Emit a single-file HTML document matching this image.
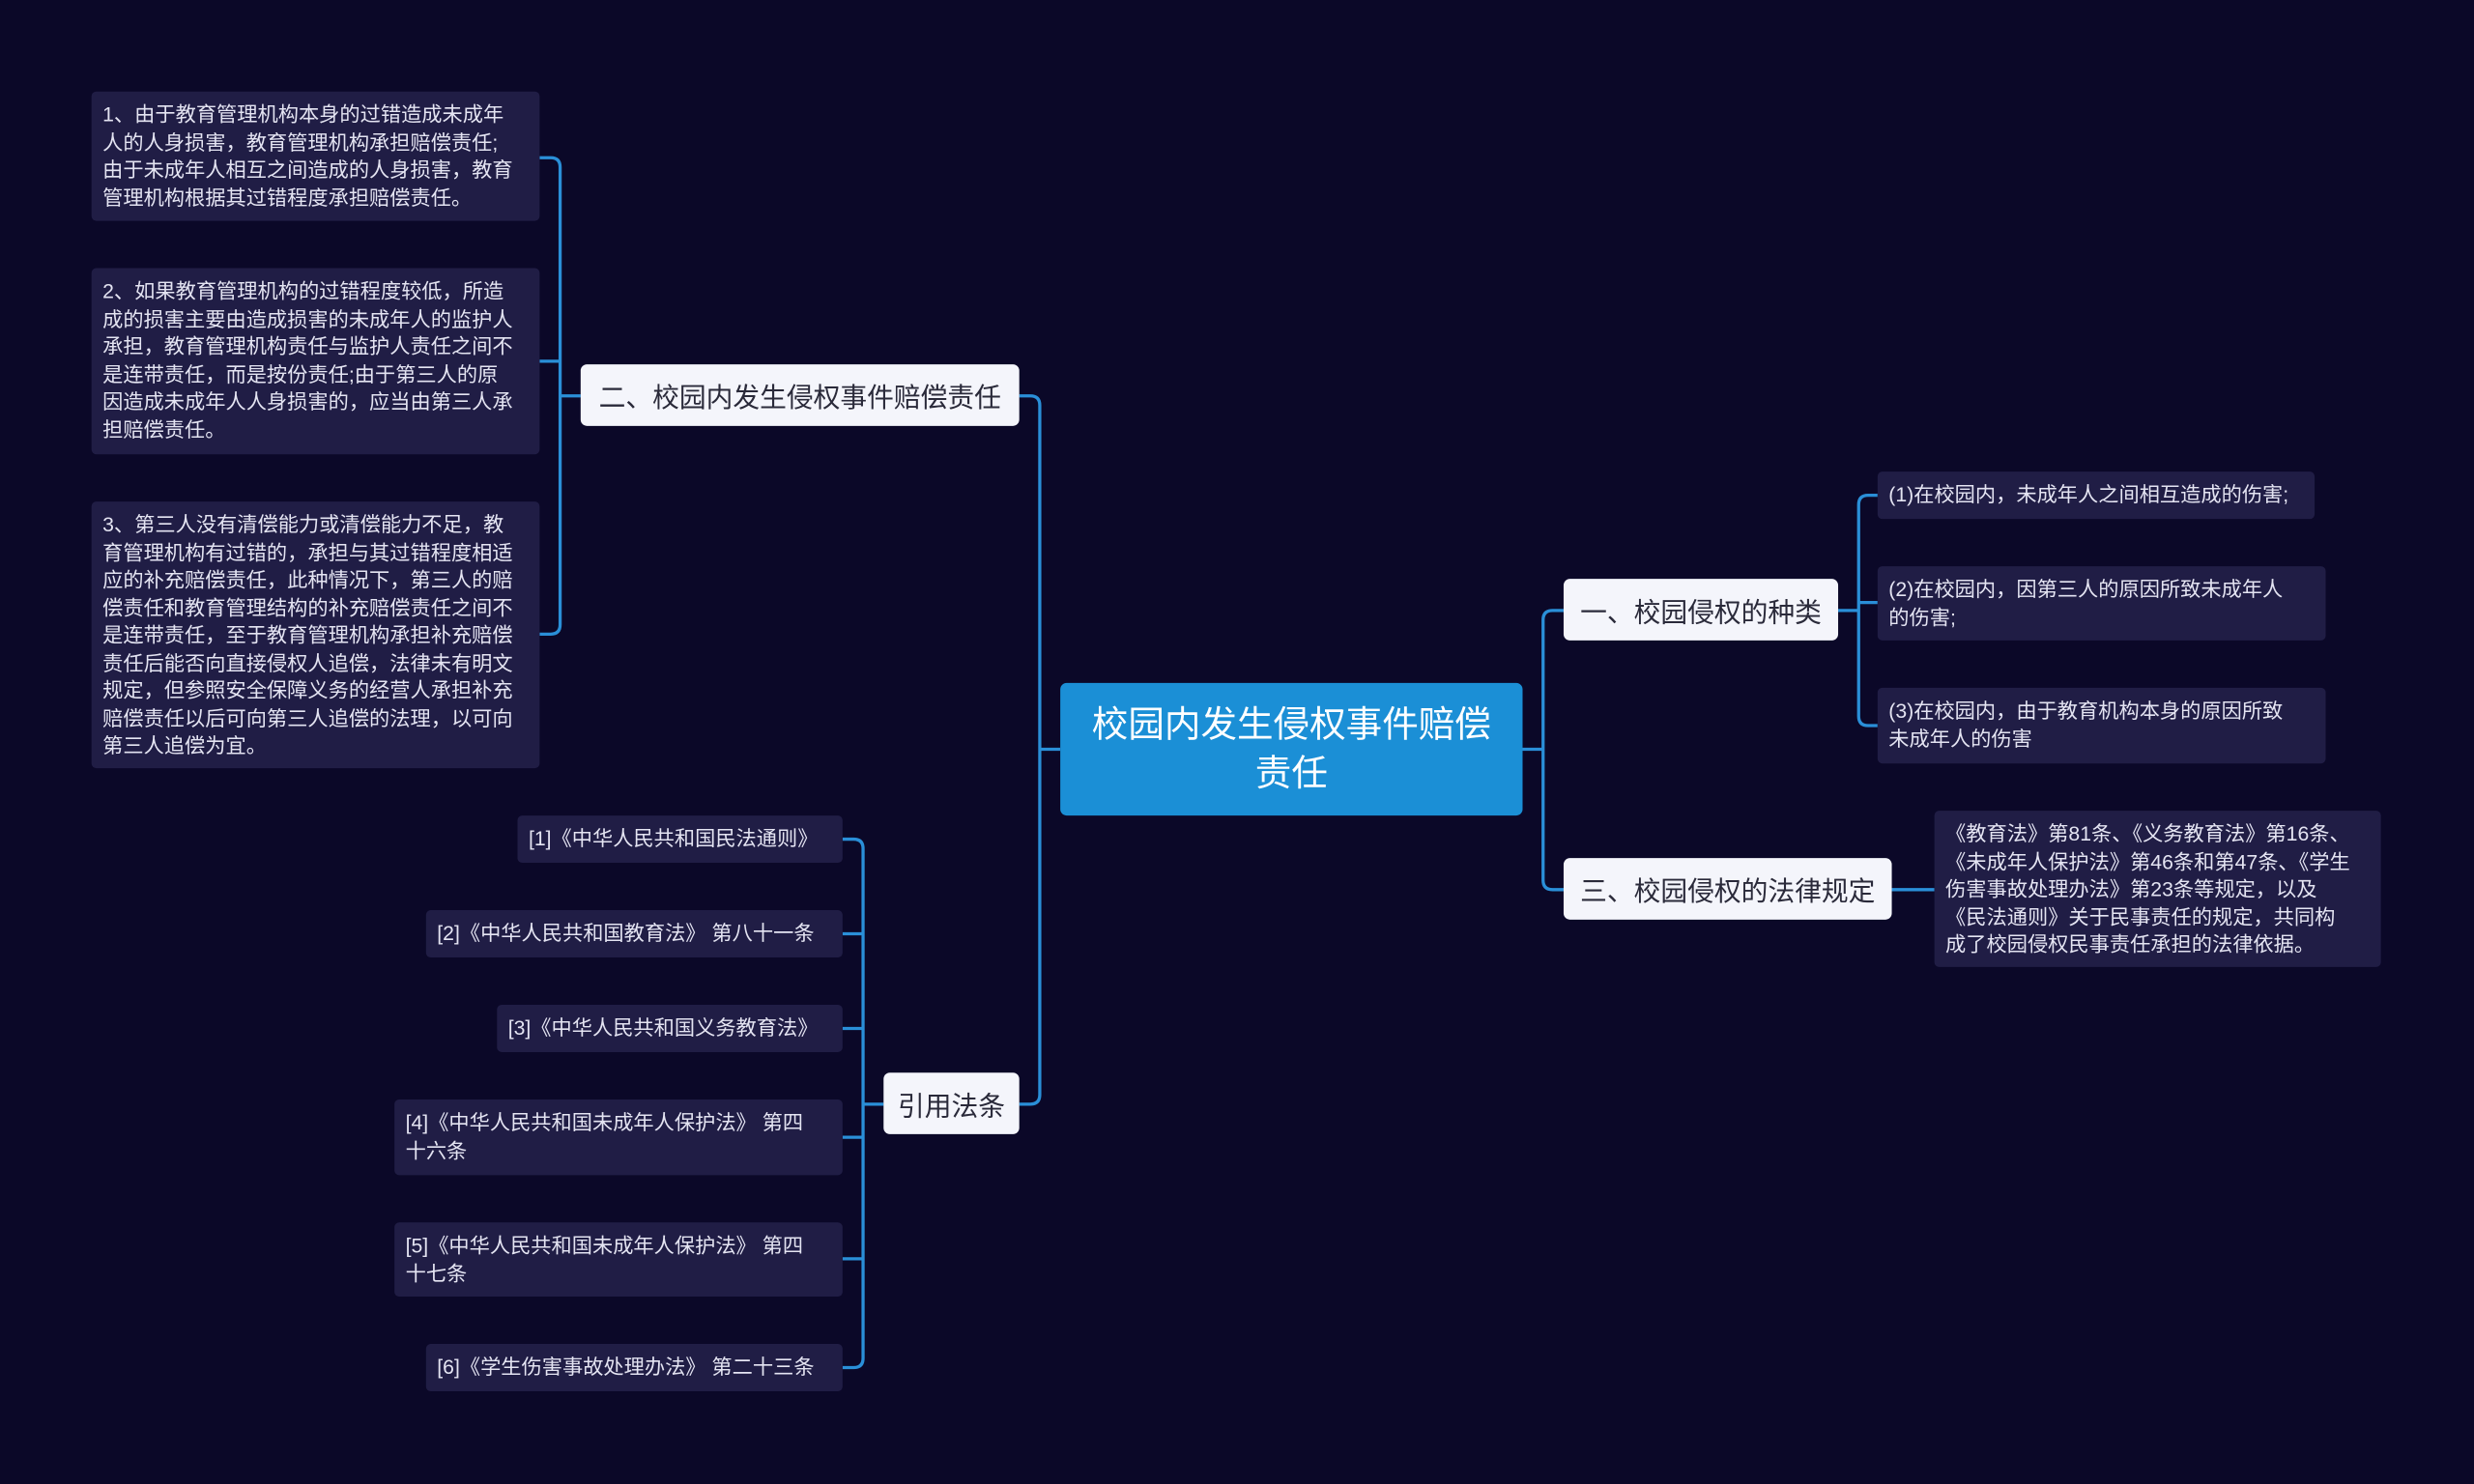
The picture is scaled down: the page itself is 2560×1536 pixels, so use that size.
<!DOCTYPE html>
<html><head><meta charset="utf-8">
<style>
html,body{margin:0;padding:0;background:#0b0828;overflow:hidden;}
#wrap{position:absolute;left:0;top:0;width:1568px;height:941px;transform:scale(1.63265);transform-origin:0 0;background:#0b0828;}
.n{position:absolute;box-sizing:border-box;font-family:"Liberation Sans","Noto Sans CJK SC",sans-serif;}
.leaf{background:#201d45;color:#e4e4f2;font-size:13px;line-height:17.5px;padding:6px 14px 6px 7px;border-radius:3px;}
.main{background:#f4f5fb;color:#2a2a3a;font-size:17px;border-radius:4px;display:flex;align-items:center;justify-content:center;white-space:nowrap;}
.center{background:#1b8fd6;color:#fff;font-size:23px;line-height:31px;border-radius:4px;display:flex;align-items:center;justify-content:center;text-align:center;padding:0 14px;}
.cite{display:flex;align-items:center;white-space:nowrap;}
svg{position:absolute;left:0;top:0;}
</style></head><body><div id="wrap">
<svg width="1568" height="941" fill="none" stroke="#2a8fd8" stroke-width="2">
<path d="M672 475 H659 M646 251 H653 Q659 251 659 257 V694 Q659 700 653 700 H646"/>
<path d="M368 251 H355 M342 100 H349 Q355 100 355 106 V396 Q355 402 349 402 H342 M342 229 H355"/>
<path d="M560 700 H547 M534 532 H541 Q547 532 547 538 V861 Q547 867 541 867 H534 M534 592 H547 M534 652 H547 M534 721 H547 M534 798 H547"/>
<path d="M965 475 H978 M991 387 H984 Q978 387 978 393 V558 Q978 564 984 564 H991"/>
<path d="M1165 387 H1178 M1190 314 H1184 Q1178 314 1178 320 V454 Q1178 460 1184 460 H1190 M1178 382 H1190"/>
<path d="M1199 564 H1226"/>
</svg>
<div class="n center" style="left:672px;top:433px;width:293px;height:84px;">校园内发生侵权事件赔偿责任</div>
<div class="n main" style="left:368px;top:231px;width:278px;height:39px;">二、校园内发生侵权事件赔偿责任</div>
<div class="n main" style="left:560px;top:680px;width:86px;height:39px;">引用法条</div>
<div class="n main" style="left:991px;top:367px;width:174px;height:39px;">一、校园侵权的种类</div>
<div class="n main" style="left:991px;top:544px;width:208px;height:39px;">三、校园侵权的法律规定</div>

<div class="n leaf" style="left:58px;top:58px;width:284px;height:82px;">1、由于教育管理机构本身的过错造成未成年人的人身损害，教育管理机构承担赔偿责任;由于未成年人相互之间造成的人身损害，教育管理机构根据其过错程度承担赔偿责任。</div>
<div class="n leaf" style="left:58px;top:170px;width:284px;height:118px;">2、如果教育管理机构的过错程度较低，所造成的损害主要由造成损害的未成年人的监护人承担，教育管理机构责任与监护人责任之间不是连带责任，而是按份责任;由于第三人的原因造成未成年人人身损害的，应当由第三人承担赔偿责任。</div>
<div class="n leaf" style="left:58px;top:318px;width:284px;height:169px;">3、第三人没有清偿能力或清偿能力不足，教育管理机构有过错的，承担与其过错程度相适应的补充赔偿责任，此种情况下，第三人的赔偿责任和教育管理结构的补充赔偿责任之间不是连带责任，至于教育管理机构承担补充赔偿责任后能否向直接侵权人追偿，法律未有明文规定，但参照安全保障义务的经营人承担补充赔偿责任以后可向第三人追偿的法理，以可向第三人追偿为宜。</div>

<div class="n leaf cite" style="left:328px;top:517px;width:206px;height:30px;padding-right:7px;">[1]《中华人民共和国民法通则》</div>
<div class="n leaf cite" style="left:270px;top:577px;width:264px;height:30px;padding-right:7px;">[2]《中华人民共和国教育法》 第八十一条</div>
<div class="n leaf cite" style="left:315px;top:637px;width:219px;height:30px;padding-right:7px;">[3]《中华人民共和国义务教育法》</div>
<div class="n leaf" style="left:250px;top:697px;width:284px;height:48px;">[4]《中华人民共和国未成年人保护法》 第四十六条</div>
<div class="n leaf" style="left:250px;top:775px;width:284px;height:47px;">[5]《中华人民共和国未成年人保护法》 第四十七条</div>
<div class="n leaf cite" style="left:270px;top:852px;width:264px;height:30px;padding-right:7px;">[6]《学生伤害事故处理办法》 第二十三条</div>

<div class="n leaf cite" style="left:1190px;top:299px;width:277px;height:30px;padding-right:7px;">(1)在校园内，未成年人之间相互造成的伤害;</div>
<div class="n leaf" style="left:1190px;top:359px;width:284px;height:47px;padding-right:24px;">(2)在校园内，因第三人的原因所致未成年人的伤害;</div>
<div class="n leaf" style="left:1190px;top:436px;width:284px;height:48px;padding-right:24px;">(3)在校园内，由于教育机构本身的原因所致未成年人的伤害</div>
<div class="n leaf" style="left:1226px;top:514px;width:283px;height:99px;padding-right:18px;">《教育法》第81条、《义务教育法》第16条、《未成年人保护法》第46条和第47条、《学生伤害事故处理办法》第23条等规定，以及《民法通则》关于民事责任的规定，共同构成了校园侵权民事责任承担的法律依据。</div>
</div></body></html>
